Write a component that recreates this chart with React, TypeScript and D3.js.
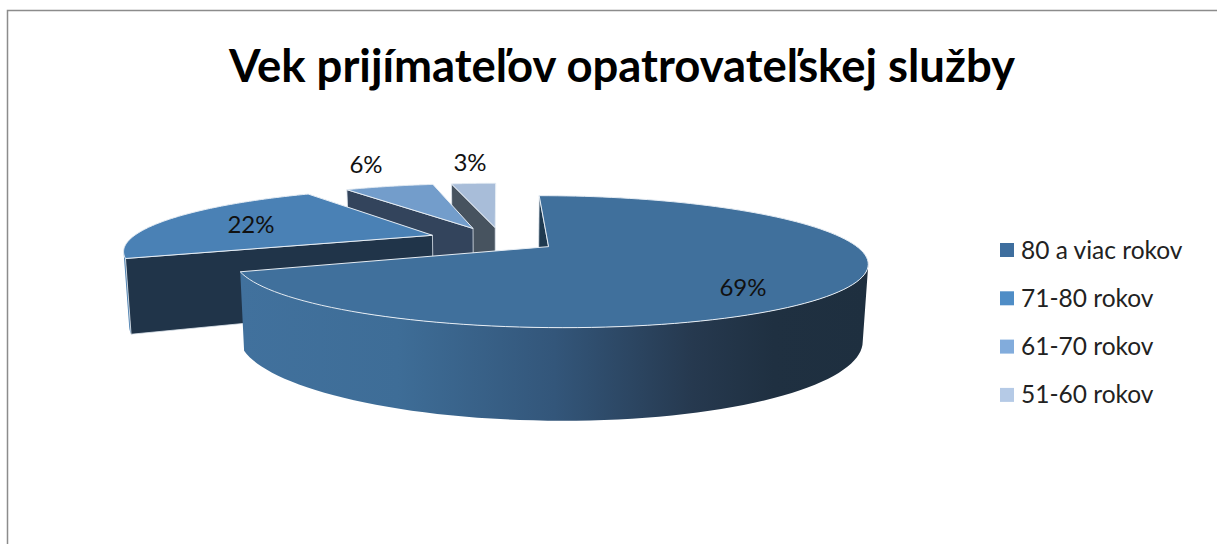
import React from 'react';
import * as d3 from 'd3';

const title = 'Vek prijímateľov opatrovateľskej služby';
const categories = ['80 a viac rokov', '71-80 rokov', '61-70 rokov', '51-60 rokov'];
const values = [69, 22, 6, 3];
const legendColors = ['#3e6e9e', '#4f8dc6', '#82acdc', '#b5cae6'];
const topColors = ['#40709c', '#4a81b5', '#739dcb', '#a8bdd9'];
const faceColors = ['#1f3a50', '#203449', '#33445c', '#47535f'];
const wallColors = ['url(#mainWall)', '#4a7fb0', '#33445c', '#47535f'];
const labelPos = [[743, 287], [251, 224], [366, 164], [470, 162]];

const width = 1217;
const height = 544;

// camera: pie axis at (cx, cy), p is the perspective strength
const cx = 498;
const cy = 239.5;
const rx = 298;
const ry = 58.9;
const p = 0.22;
const depth = 71;
const bottomScale = 0.985;
const explode = [0.21, 0.235, 0.21, 0.21];
const radius = [1.008, 1.015, 1, 1];
const nudge = [-2.5, 0, -3, 3]; // px, sideways shift of each exploded slice

type Pt = [number, number];

// u, v are disk coordinates in units of the radius, v grows toward the viewer
const project = (u: number, v: number, bottom: boolean): Pt => {
  const s = 1 / (1 - p * v);
  const k = bottom ? bottomScale : 1;
  return [cx + k * rx * u * s, cy + k * ry * v * s + (bottom ? depth * s : 0)];
};

const line = d3.line<Pt>().curve(d3.curveLinearClosed);

const arcs = d3.pie<number>().sort(null).startAngle(0).endAngle(2 * Math.PI)(values);

const slices = arcs.map((a, i) => {
  const mid = (a.startAngle + a.endAngle) / 2;
  const cu = explode[i] * Math.sin(mid) + nudge[i] / rx;
  const cv = -explode[i] * Math.cos(mid);
  const steps = d3.range(0, 121).map(t => a.startAngle + (a.endAngle - a.startAngle) * t / 120);
  const rim = (bottom: boolean) =>
    steps.map(t => project(cu + radius[i] * Math.sin(t), cv - radius[i] * Math.cos(t), bottom));
  const apex = project(cu, cv, false);
  const apexB = project(cu, cv, true);
  const topRim = rim(false);
  const botRim = rim(true);
  // keep only the part of the rim that faces the viewer
  const front = d3.range(0, 120).filter(j =>
    d3.polygonArea([topRim[j], topRim[j + 1], botRim[j + 1], botRim[j]]) > 0);
  const from = d3.min(front) ?? 0;
  const to = (d3.max(front) ?? 0) + 1;
  return {
    top: line([apex, ...topRim]) as string,
    wall: front.length
      ? (line([...topRim.slice(from, to + 1), ...botRim.slice(from, to + 1).reverse()]) as string)
      : '',
    face: line([apex, topRim[0], botRim[0], apexB]) as string,
  };
});

export default function App() {
  return (
    <svg
      width={width}
      height={height}
      style={{ position: 'absolute', left: 0, top: 0, display: 'block', background: '#fff' }}
      fontFamily="Lato, 'Open Sans', sans-serif"
    >
      <defs>
        <linearGradient id="mainWall" gradientUnits="userSpaceOnUse" x1={241} x2={868} y1={0} y2={0}>
          <stop offset="0" stopColor="#41719d" />
          <stop offset="0.25" stopColor="#3e6d97" />
          <stop offset="0.5" stopColor="#33567a" />
          <stop offset="0.72" stopColor="#26394f" />
          <stop offset="0.85" stopColor="#1f3041" />
          <stop offset="1" stopColor="#1e2f3f" />
        </linearGradient>
      </defs>

      <path d="M7.5 544V10.5H1217" fill="none" stroke="#8c8c8c" strokeWidth={1.5} />

      <text x={622} y={82} textAnchor="middle" fontSize={46} fontWeight={700} fill="#000" textLength={786} lengthAdjust="spacingAndGlyphs">
        {title}
      </text>

      {[3, 2, 1, 0].map(i => (
        <g key={categories[i]}>
          <path d={slices[i].wall} fill={wallColors[i]} />
          <path d={slices[i].face} fill={faceColors[i]} stroke="#dfe7ef" strokeWidth={0.8} />
          <path d={slices[i].top} fill={topColors[i]} stroke="#e6edf4" strokeWidth={1} strokeLinejoin="round" />
        </g>
      ))}

      {values.map((v, i) => (
        <text key={v} x={labelPos[i][0]} y={labelPos[i][1]} dy="0.36em" textAnchor="middle" fontSize={24} fill="#111">
          {v}%
        </text>
      ))}

      {categories.map((c, i) => (
        <g key={c} transform={`translate(1000,${243 + i * 48.3})`}>
          <rect width={14} height={14} fill={legendColors[i]} />
          <text x={21} y={15.5} fontSize={24.5} fill="#222">{c}</text>
        </g>
      ))}
    </svg>
  );
}
